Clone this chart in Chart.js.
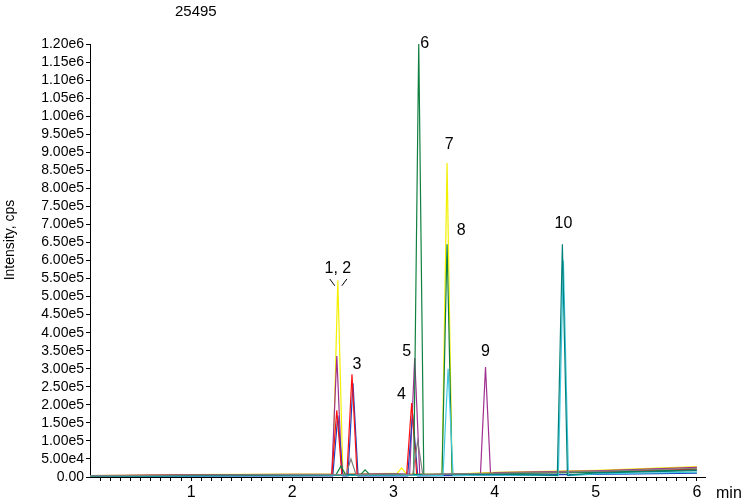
<!DOCTYPE html>
<html>
<head>
<meta charset="utf-8">
<script src="https://cdn.jsdelivr.net/npm/chart.js@4/dist/chart.umd.min.js"></script>
<style>
  html, body { margin: 0; padding: 0; background: #fff; }
  #wrap { width: 750px; height: 504px; }
</style>
</head>
<body>
<div id="wrap"><canvas id="c" width="750" height="504"></canvas></div>
<script>
// peaks per trace: [retention time (min), height (cps)]
var yellowPeaks  = [[2.45, 545000], [3.08, 25000], [3.53, 870000]];
var purplePeaks  = [[2.44, 335000], [3.21, 330000], [3.91, 305000]];
var redPeaks     = [[2.44, 185000], [2.59, 285000], [3.18, 205000]];
var bluePeaks    = [[2.45, 170000], [2.60, 260000], [3.19, 175000]];
var greenPeaks   = [[2.48, 30000], [2.72, 20000], [3.25, 1200000], [3.53, 645000]];
var cyanPeaks    = [[3.54, 300000], [4.68, 600000]];
var tealPeaks    = [[4.67, 645000]];
var grayPeaks    = [[2.58, 50000], [3.24, 100000]];
var baseline     = [[0, 3000], [1, 5000], [2, 6000], [3, 8000], [4, 10000], [5, 14000], [6, 22000]];

var peakLabels = [['1, 2', 2.45, 565000], ['3', 2.64, 300000], ['4', 3.08, 215000],
                  ['5', 3.13, 335000], ['6', 3.31, 1190000], ['7', 3.55, 910000],
                  ['8', 3.67, 670000], ['9', 3.91, 335000], ['10', 4.68, 690000]];
var yTicks = [];
for (var v = 0; v <= 1200000; v += 50000) yTicks.push(v);
var xTicks = [];
for (var i = 1; i <= 60; i++) xTicks.push(i / 10);

function trace(peaks, offset) {
  var pts = baseline.map(function (b) { return { x: b[0], y: b[1] * offset }; });
  peaks.forEach(function (p) {
    pts.push({ x: p[0] - 0.05, y: 6000 * offset });
    pts.push({ x: p[0], y: p[1] });
    pts.push({ x: p[0] + 0.05, y: 6000 * offset });
  });
  pts.sort(function (a, b) { return a.x - b.x; });
  return pts;
}

function ds(peaks, color, offset) {
  return { data: trace(peaks, offset), borderColor: color, borderWidth: 1.2,
           pointRadius: 0, tension: 0, fill: false };
}

var overlay = {
  id: 'overlay',
  afterDraw: function (chart) {
    var c = chart.ctx, xs = chart.scales.x, ys = chart.scales.y;
    c.save();
    c.fillStyle = '#000';
    c.font = '15px "Liberation Sans", Arial, sans-serif';
    c.textAlign = 'left';
    c.fillText('25495', 175, 16);
    c.textAlign = 'center';
    c.font = '16px "Liberation Sans", Arial, sans-serif';
    peakLabels.forEach(function (l) {
      c.fillText(l[0], xs.getPixelForValue(l[1]), ys.getPixelForValue(l[2]));
    });
    // leader lines for 1, 2
    c.strokeStyle = '#000'; c.lineWidth = 1;
    c.beginPath();
    c.moveTo(xs.getPixelForValue(2.37), ys.getPixelForValue(560000) + 4);
    c.lineTo(xs.getPixelForValue(2.42), ys.getPixelForValue(530000));
    c.moveTo(xs.getPixelForValue(2.54), ys.getPixelForValue(560000) + 4);
    c.lineTo(xs.getPixelForValue(2.49), ys.getPixelForValue(530000));
    c.stroke();
    c.textAlign = 'left';
    c.fillText('min', 716, 498);
    c.translate(14, 240); c.rotate(-Math.PI / 2);
    c.textAlign = 'center';
    c.font = '14px "Liberation Sans", Arial, sans-serif';
    c.fillText('Intensity, cps', 0, 0);
    c.restore();
  }
};

new Chart(document.getElementById('c').getContext('2d'), {
  type: 'line',
  data: { datasets: [
    ds(grayPeaks, '#808080', 1.1),
    ds(tealPeaks, '#00807a', 0.8),
    ds(cyanPeaks, '#40c8e0', 0.6),
    ds(greenPeaks, '#108040', 0.9),
    ds(redPeaks, '#ff1010', 1.0),
    ds(bluePeaks, '#2040c0', 0.5),
    ds(purplePeaks, '#a03090', 1.2),
    ds(yellowPeaks, '#f4f000', 1.3)
  ] },
  options: {
    animation: false, responsive: false,
    layout: { padding: { top: 44, right: 45, left: 0, bottom: 0 } },
    plugins: { legend: { display: false }, tooltip: { enabled: false } },
    scales: {
      x: {
        type: 'linear', min: 0, max: 6.08,
        afterFit: function (s) { s.height = 27; },
        afterBuildTicks: function (s) { s.ticks = xTicks.map(function (v) { return { value: v }; }); },
        border: { color: '#000' },
        grid: { drawOnChartArea: false, tickLength: 4, color: '#000' },
        ticks: { autoSkip: false, maxRotation: 0, color: '#000', padding: 2,
                 font: { size: 16, family: '"Liberation Sans", Arial' },
                 callback: function (v) { return Math.abs(v - Math.round(v)) < 1e-6 ? String(Math.round(v)) : ''; } }
      },
      y: {
        min: 0, max: 1200000,
        afterFit: function (s) { s.width = 90; },
        afterBuildTicks: function (s) { s.ticks = yTicks.map(function (v) { return { value: v }; }); },
        border: { color: '#000' },
        grid: { drawOnChartArea: false, tickLength: 4, color: '#000' },
        ticks: { autoSkip: false, color: '#000', padding: 2,
                 font: { size: 14, family: '"Liberation Sans", Arial' },
                 callback: function (v) { return v === 0 ? '0.00' : v.toExponential(2).replace('+', ''); } }
      }
    }
  },
  plugins: [overlay]
});
</script>
</body>
</html>
